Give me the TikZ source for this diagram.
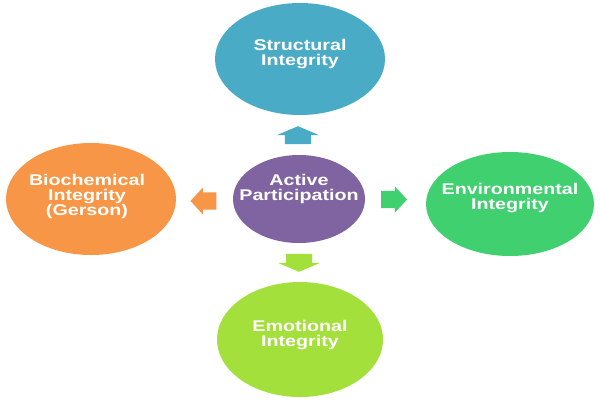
\documentclass[tikz,border=0pt]{standalone}
\usepackage{fontspec}
\newfontfamily\labfont{Liberation Sans}[FakeStretch=1.27]
\usetikzlibrary{shapes.geometric,shapes.arrows}
\definecolor{caqua}{HTML}{4AABC6}
\definecolor{corange}{HTML}{F79646}
\definecolor{cpurple}{HTML}{8064A2}
\definecolor{cgreen}{HTML}{40D070}
\definecolor{clime}{HTML}{A4E03C}
\tikzset{
  blob/.style={ellipse, draw=none, inner sep=0pt},
  lab/.style={text=white, align=center, inner sep=0pt,
    font=\labfont\bfseries\fontsize{15.5bp}{15bp}\selectfont},
  vblock/.style={single arrow, draw=none, inner xsep=0pt, inner ysep=13bp,
    minimum height=18bp, single arrow head extend=8bp,
    single arrow tip angle=134, single arrow head indent=0pt},
  hblock/.style={single arrow, draw=none, inner xsep=0pt, inner ysep=8.5bp,
    minimum height=26bp, single arrow head extend=4.5bp,
    single arrow tip angle=94, single arrow head indent=0pt}
}
\begin{document}
\begin{tikzpicture}[x=1bp,y=-1bp]
\useasboundingbox[fill=white] (0,0) rectangle (600,400);
% ellipses
\node[blob, fill=caqua, minimum width=170bp, minimum height=112bp] (top) at (300,59) {};
\node[blob, fill=corange, minimum width=170bp, minimum height=112bp] (left) at (91,199) {};
\node[blob, fill=cpurple, minimum width=132bp, minimum height=88bp] (mid) at (299,199) {};
\node[blob, fill=cgreen, minimum width=168bp, minimum height=104bp] (right) at (510,204) {};
\node[blob, fill=clime, minimum width=166bp, minimum height=115bp] (bot) at (300,339.5) {};
% labels
\node[lab] (toplab) at (300,54) {Structural\\Integrity};
\node[lab] (leftlab) at (87,196.5) {Biochemical\\Integrity\\(Gerson)};
\node[lab] (midlab) at (299,189) {Active\\Participation};
\node[lab] (rightlab) at (510,198) {Environmental\\Integrity};
\node[lab] (botlab) at (300,335) {Emotional\\Integrity};
% block arrows
\node[vblock, fill=caqua, rotate=90] (aup) at (298,138) {};
\node[vblock, fill=clime, rotate=-90] (adown) at (299,260) {};
\node[hblock, fill=cgreen] (aright) at (390,199.5) {};
\node[hblock, fill=corange, rotate=180] (aleft) at (207.5,201) {};
\end{tikzpicture}
\end{document}
